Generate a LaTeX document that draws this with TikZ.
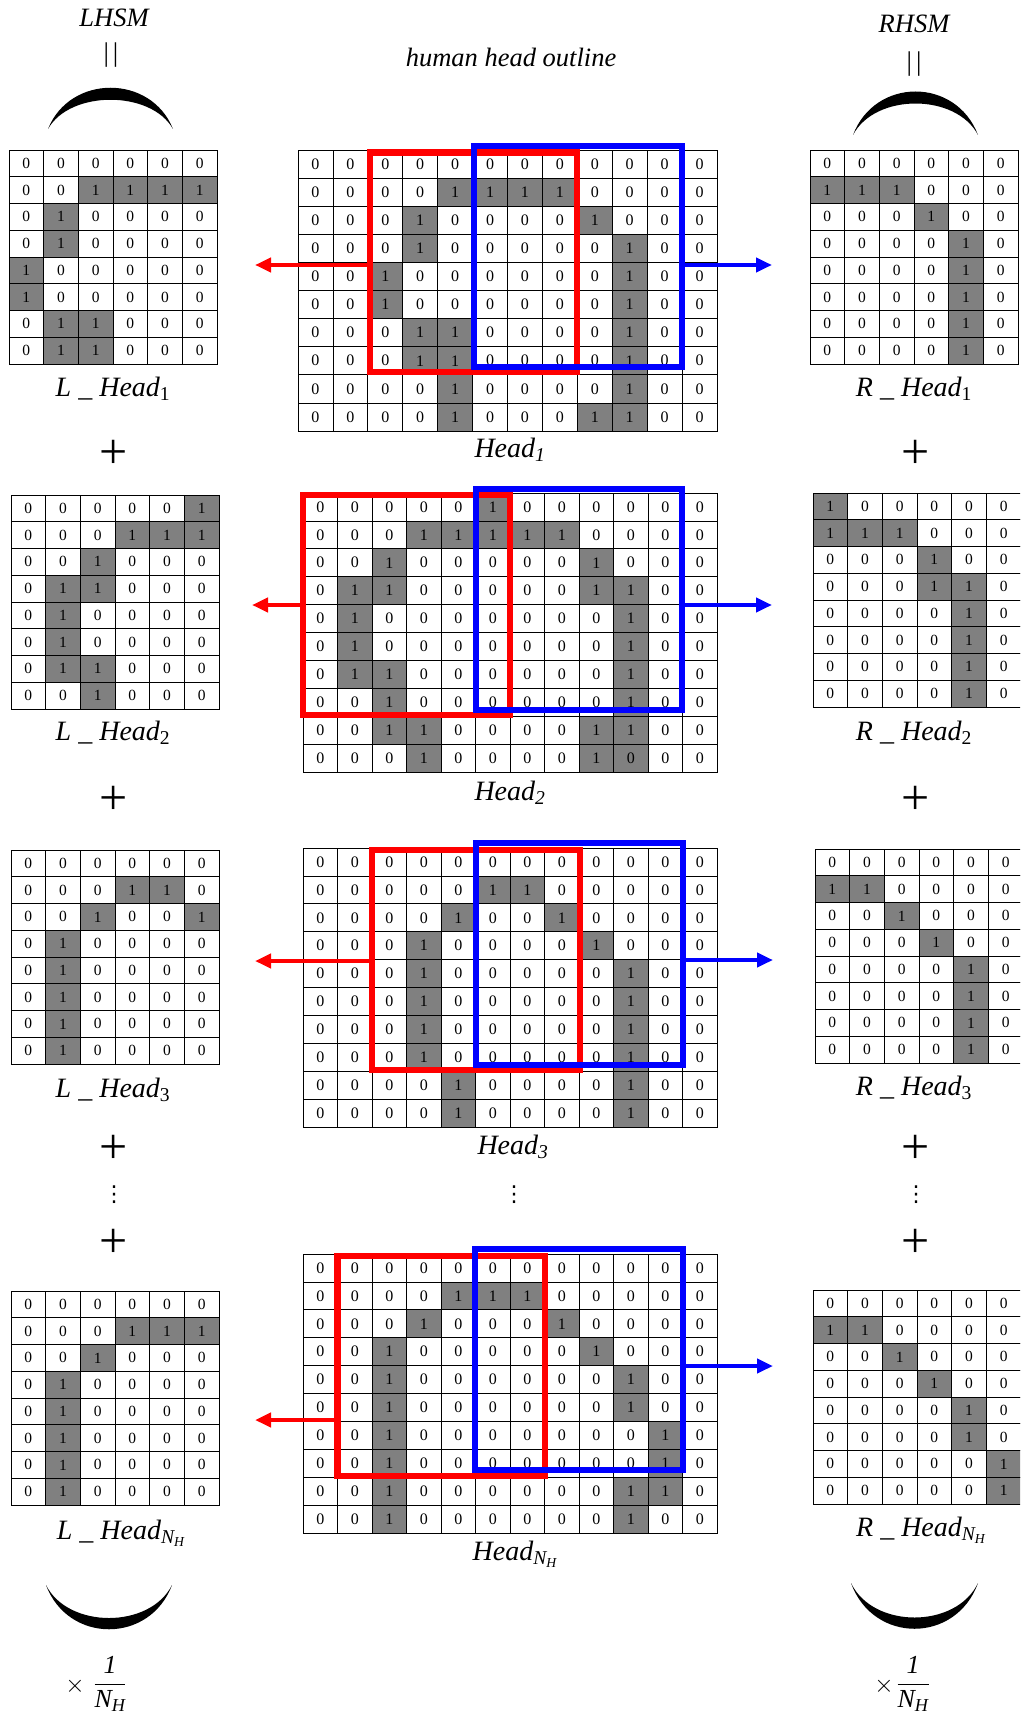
\documentclass[tikz,border=0pt]{standalone}
\usepackage{fontspec}
\usepackage{amsmath}
\setmainfont{Liberation Serif}
\newfontfamily\symfont{DejaVu Sans}
\usetikzlibrary{arrows.meta}
\definecolor{cellgray}{RGB}{128,128,128}
\tikzset{
  cell/.style={draw=black, line width=0.8pt, inner sep=0pt, outer sep=0pt,
    font=\fontsize{16}{16}\selectfont},
  smallcell/.style={font=\fontsize{15.5}{15.5}\selectfont},
  redbox/.style={draw=red, line width=6.5pt, inner sep=0pt, outer sep=0pt},
  bluebox/.style={draw=blue, line width=6pt, inner sep=0pt, outer sep=0pt},
  redarrow/.style={draw=red, line width=4pt, -{Triangle[length=16pt,width=14pt]}},
  bluearrow/.style={draw=blue, line width=4pt, -{Triangle[length=16pt,width=14pt]}},
  lbl/.style={font=\fontsize{28}{28}\selectfont\itshape, inner sep=0pt},
  toplbl/.style={font=\fontsize{26.5}{26.5}\selectfont\itshape, inner sep=0pt},
  bars/.style={font=\fontsize{27}{27}\selectfont, inner sep=0pt},
  plusn/.style={font=\fontsize{50}{50}\selectfont, inner sep=0pt},
  dotsn/.style={font=\fontsize{22}{22}\symfont, inner sep=0pt},
  fracn/.style={font=\fontsize{26}{30}\selectfont, inner sep=0pt},
  crescent/.style={fill=black, draw=none}
}
% \cellgrid{prefix}{x0}{y0}{cell width}{cell height}{extra style}{rows}
% value 0 = white cell "0", 1 = gray cell "1", 2 = gray cell "0"
\newcommand\cellgrid[7]{%
  \foreach \rowvals [count=\ri from 0] in {#7} {%
    \foreach \cv [count=\ci from 0] in \rowvals {%
      \pgfmathsetmacro\cx{#2+(\ci+0.5)*#4}%
      \pgfmathsetmacro\cy{#3+(\ri+0.5)*#5}%
      \ifnum\cv=0 \def\cfill{white}\def\ctext{0}%
      \else\ifnum\cv=1 \def\cfill{cellgray}\def\ctext{1}%
      \else \def\cfill{cellgray}\def\ctext{0}\fi\fi
      \node[cell,#6,minimum width=#4pt,minimum height=#5pt,fill=\cfill]
        (#1-\ri-\ci) at (\cx,\cy) {\ctext};
    }%
  }%
}
\begin{document}
\begin{tikzpicture}[x=1pt,y=-1pt]
\useasboundingbox (0,0) rectangle (1020,1720);
\clip (0,0) rectangle (1020,1720);
\fill[white] (0,0) rectangle (1020,1720);

% ---------- headings ----------
\node[toplbl] (lhsm) at (114,18) {LHSM};
\node[bars] (lbars) at (111,55) {|\hspace{4pt}|};
\node[toplbl] (rhsm) at (914,24) {RHSM};
\node[bars] (rbars) at (914,64) {|\hspace{4pt}|};
\node[toplbl] (outline) at (511,57) {human head outline};

% ---------- crescents ----------
\path[crescent] (48,129) .. controls (70,74) and (151,74) .. (173,129)
                         .. controls (151,90) and (70,90) .. (48,129);
\path[crescent] (853,135) .. controls (875,77) and (956,77) .. (978,135)
                          .. controls (956,93) and (875,93) .. (853,135);
\path[crescent] (46,1585) .. controls (68,1644) and (150,1644) .. (172,1585)
                          .. controls (150,1629) and (68,1629) .. (46,1585);
\path[crescent] (851,1583) .. controls (873,1644) and (956,1644) .. (978,1583)
                           .. controls (956,1629) and (873,1629) .. (851,1583);

% ---------- head outlines (centre) ----------
\cellgrid{c1}{298}{150}{34.92}{28.1}{}{
{0,0,0,0,0,0,0,0,0,0,0,0},
{0,0,0,0,1,1,1,1,0,0,0,0},
{0,0,0,1,0,0,0,0,1,0,0,0},
{0,0,0,1,0,0,0,0,0,1,0,0},
{0,0,1,0,0,0,0,0,0,1,0,0},
{0,0,1,0,0,0,0,0,0,1,0,0},
{0,0,0,1,1,0,0,0,0,1,0,0},
{0,0,0,1,1,0,0,0,0,1,0,0},
{0,0,0,0,1,0,0,0,0,1,0,0},
{0,0,0,0,1,0,0,0,1,1,0,0}}
\cellgrid{c2}{303}{493}{34.5}{27.9}{}{
{0,0,0,0,0,1,0,0,0,0,0,0},
{0,0,0,1,1,1,1,1,0,0,0,0},
{0,0,1,0,0,0,0,0,1,0,0,0},
{0,1,1,0,0,0,0,0,1,1,0,0},
{0,1,0,0,0,0,0,0,0,1,0,0},
{0,1,0,0,0,0,0,0,0,1,0,0},
{0,1,1,0,0,0,0,0,0,1,0,0},
{0,0,1,0,0,0,0,0,0,1,0,0},
{0,0,1,1,0,0,0,0,1,1,0,0},
{0,0,0,1,0,0,0,0,1,2,0,0}}
\cellgrid{c3}{303}{848}{34.5}{27.9}{}{
{0,0,0,0,0,0,0,0,0,0,0,0},
{0,0,0,0,0,1,1,0,0,0,0,0},
{0,0,0,0,1,0,0,1,0,0,0,0},
{0,0,0,1,0,0,0,0,1,0,0,0},
{0,0,0,1,0,0,0,0,0,1,0,0},
{0,0,0,1,0,0,0,0,0,1,0,0},
{0,0,0,1,0,0,0,0,0,1,0,0},
{0,0,0,1,0,0,0,0,0,1,0,0},
{0,0,0,0,1,0,0,0,0,1,0,0},
{0,0,0,0,1,0,0,0,0,1,0,0}}
\cellgrid{c4}{303}{1254}{34.5}{27.9}{}{
{0,0,0,0,0,0,0,0,0,0,0,0},
{0,0,0,0,1,1,1,0,0,0,0,0},
{0,0,0,1,0,0,0,1,0,0,0,0},
{0,0,1,0,0,0,0,0,1,0,0,0},
{0,0,1,0,0,0,0,0,0,1,0,0},
{0,0,1,0,0,0,0,0,0,1,0,0},
{0,0,1,0,0,0,0,0,0,0,1,0},
{0,0,1,0,0,0,0,0,0,0,1,0},
{0,0,1,0,0,0,0,0,0,1,1,0},
{0,0,1,0,0,0,0,0,0,1,0,0}}

% ---------- left half windows ----------
\cellgrid{l1}{9}{150}{34.67}{26.75}{smallcell}{
{0,0,0,0,0,0},{0,0,1,1,1,1},{0,1,0,0,0,0},{0,1,0,0,0,0},
{1,0,0,0,0,0},{1,0,0,0,0,0},{0,1,1,0,0,0},{0,1,1,0,0,0}}
\cellgrid{l2}{11}{495}{34.67}{26.75}{smallcell}{
{0,0,0,0,0,1},{0,0,0,1,1,1},{0,0,1,0,0,0},{0,1,1,0,0,0},
{0,1,0,0,0,0},{0,1,0,0,0,0},{0,1,1,0,0,0},{0,0,1,0,0,0}}
\cellgrid{l3}{11}{850}{34.67}{26.75}{smallcell}{
{0,0,0,0,0,0},{0,0,0,1,1,0},{0,0,1,0,0,1},{0,1,0,0,0,0},
{0,1,0,0,0,0},{0,1,0,0,0,0},{0,1,0,0,0,0},{0,1,0,0,0,0}}
\cellgrid{l4}{11}{1291}{34.67}{26.75}{smallcell}{
{0,0,0,0,0,0},{0,0,0,1,1,1},{0,0,1,0,0,0},{0,1,0,0,0,0},
{0,1,0,0,0,0},{0,1,0,0,0,0},{0,1,0,0,0,0},{0,1,0,0,0,0}}

% ---------- right half windows ----------
\cellgrid{r1}{810}{150}{34.67}{26.75}{smallcell}{
{0,0,0,0,0,0},{1,1,1,0,0,0},{0,0,0,1,0,0},{0,0,0,0,1,0},
{0,0,0,0,1,0},{0,0,0,0,1,0},{0,0,0,0,1,0},{0,0,0,0,1,0}}
\cellgrid{r2}{813}{493}{34.67}{26.75}{smallcell}{
{1,0,0,0,0,0},{1,1,1,0,0,0},{0,0,0,1,0,0},{0,0,0,1,1,0},
{0,0,0,0,1,0},{0,0,0,0,1,0},{0,0,0,0,1,0},{0,0,0,0,1,0}}
\cellgrid{r3}{815}{849}{34.67}{26.75}{smallcell}{
{0,0,0,0,0,0},{1,1,0,0,0,0},{0,0,1,0,0,0},{0,0,0,1,0,0},
{0,0,0,0,1,0},{0,0,0,0,1,0},{0,0,0,0,1,0},{0,0,0,0,1,0}}
\cellgrid{r4}{813}{1290}{34.67}{26.75}{smallcell}{
{0,0,0,0,0,0},{1,1,0,0,0,0},{0,0,1,0,0,0},{0,0,0,1,0,0},
{0,0,0,0,1,0},{0,0,0,0,1,0},{0,0,0,0,0,1},{0,0,0,0,0,1}}

% ---------- sliding windows ----------
\node[redbox, minimum width=207pt, minimum height=219.5pt] (rb1) at (473.5,262.25) {};
\node[bluebox, minimum width=208pt, minimum height=220.5pt] (bb1) at (578,256.75) {};
\node[redbox, minimum width=207pt, minimum height=220pt] (rb2) at (406.5,605) {};
\node[bluebox, minimum width=206.5pt, minimum height=221pt] (bb2) at (578.75,599) {};
\node[redbox, minimum width=208pt, minimum height=220pt] (rb3) at (476,960) {};
\node[bluebox, minimum width=207.5pt, minimum height=222pt] (bb3) at (579.25,953.5) {};
\node[redbox, minimum width=207.5pt, minimum height=220pt] (rb4) at (441.25,1366) {};
\node[bluebox, minimum width=208pt, minimum height=221.5pt] (bb4) at (579,1359.25) {};

% ---------- arrows to the half windows ----------
\coordinate (rt1) at (255,265);  \coordinate (bt1) at (772,265);
\coordinate (rt2) at (252,605);  \coordinate (bt2) at (772,605);
\coordinate (rt3) at (255,961);  \coordinate (bt3) at (773,960);
\coordinate (rt4) at (255,1420); \coordinate (bt4) at (773,1366);
\foreach \k in {1,2,3,4} {
  \draw[redarrow] (rb\k.west |- rt\k) -- (rt\k);
  \draw[bluearrow] (bb\k.east |- bt\k) -- (bt\k);
}

% ---------- labels ----------
\node[lbl] (hd1) at (510,450) {Head\textsubscript{1}};
\node[lbl] (hd2) at (510,793) {Head\textsubscript{2}};
\node[lbl] (hd3) at (513,1147) {Head\textsubscript{3}};
\node[lbl] (hd4) at (515,1554) {Head\textsubscript{N\textsubscript{H}}};
\node[lbl] (lh1) at (113,389) {L \_ Head\textsubscript{\upshape 1}};
\node[lbl] (lh2) at (113,733) {L \_ Head\textsubscript{\upshape 2}};
\node[lbl] (lh3) at (113,1090) {L \_ Head\textsubscript{\upshape 3}};
\node[lbl] (lh4) at (121,1533) {L \_ Head\textsubscript{N\textsubscript{H}}};
\node[lbl] (rh1) at (914,389) {R \_ Head\textsubscript{\upshape 1}};
\node[lbl] (rh2) at (914,733) {R \_ Head\textsubscript{\upshape 2}};
\node[lbl] (rh3) at (914,1088) {R \_ Head\textsubscript{\upshape 3}};
\node[lbl] (rh4) at (921,1530) {R \_ Head\textsubscript{N\textsubscript{H}}};

% ---------- sums ----------
\foreach \yy [count=\n] in {454,800,1149,1243} {
  \node[plusn] (pl\n) at (114,\yy) {+};
  \node[plusn] (pr\n) at (916,\yy) {+};
}
\node[dotsn] (dl) at (114,1195) {⋮};
\node[dotsn] (dr) at (916,1195) {⋮};
\node[dotsn] (dc) at (514,1195) {⋮};

% ---------- averaging factors ----------
\node[fracn] (xl) at (75,1686) {$\times$};
\node[fracn] (fl) at (110,1684) {$\displaystyle\frac{\textit{1}}{\textit{N}_{\textit{H}}}$};
\node[fracn] (xr) at (884,1686) {$\times$};
\node[fracn] (fr) at (913,1684) {$\displaystyle\frac{\textit{1}}{\textit{N}_{\textit{H}}}$};
\end{tikzpicture}
\end{document}
